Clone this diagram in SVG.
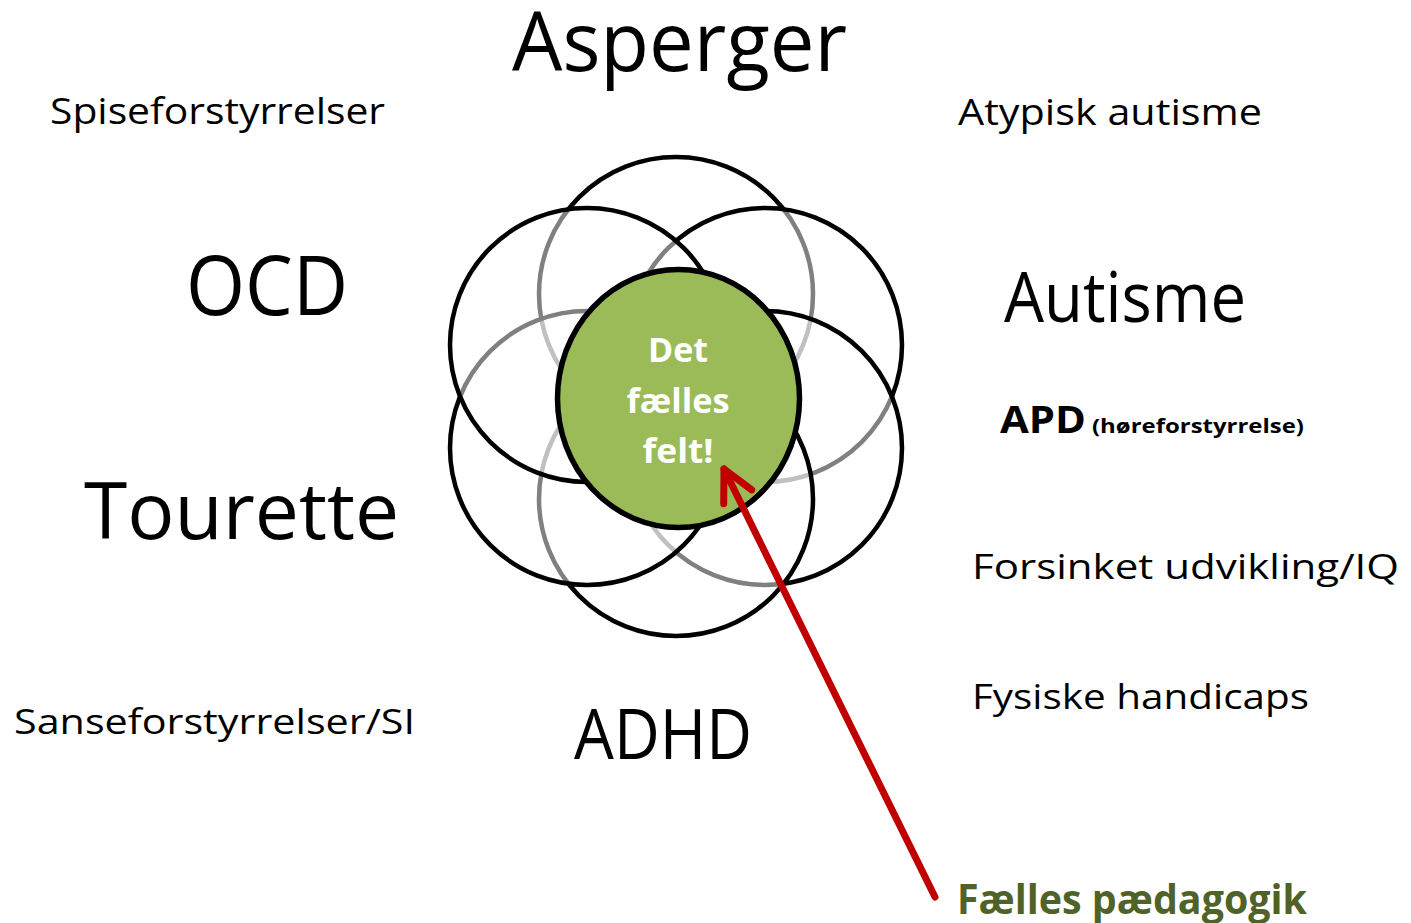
<svg xmlns="http://www.w3.org/2000/svg" width="1411" height="923" viewBox="0 0 1411 923">
<style>
.lbl{font-family:"Open Sans","Noto Sans","Liberation Sans",sans-serif;fill:#000}
.b{font-weight:bold}
.ring{fill:#fff;fill-opacity:0.5;stroke:#000;stroke-width:4.5}
.core{fill:#9BBB59;stroke:#000;stroke-width:5.5}
.ctr{font-family:"Open Sans","Noto Sans","Liberation Sans",sans-serif;font-weight:bold;fill:#fff;font-size:34px}
.arrow{fill:none;stroke:#C00000;stroke-width:7;stroke-linecap:round;stroke-linejoin:round}
</style>
<defs>
<marker id="head" markerUnits="userSpaceOnUse" orient="auto" refX="0" refY="0" markerWidth="80" markerHeight="80" overflow="visible">
<path d="M-31,-15.6 L0,0 L-31,15.6" fill="none" stroke="#C00000" stroke-width="7" stroke-linecap="round" stroke-linejoin="round"/>
</marker>
</defs>
<rect width="1411" height="923" fill="#fff"/>
<g id="rings">
<circle id="ring-top" class="ring" cx="676" cy="294" r="137"/>
<circle id="ring-upper-right" class="ring" cx="765" cy="345" r="137"/>
<circle id="ring-lower-right" class="ring" cx="765" cy="448" r="137"/>
<circle id="ring-bottom" class="ring" cx="676" cy="499" r="137"/>
<circle id="ring-lower-left" class="ring" cx="587" cy="448" r="137"/>
<circle id="ring-upper-left" class="ring" cx="587" cy="345" r="137"/>
</g>
<g id="center">
<ellipse class="core" cx="678.5" cy="398.5" rx="121" ry="129"/>
<text class="ctr" x="678" y="362" text-anchor="middle" textLength="60" lengthAdjust="spacingAndGlyphs">Det</text>
<text class="ctr" x="678" y="413" text-anchor="middle" textLength="103" lengthAdjust="spacingAndGlyphs">fælles</text>
<text class="ctr" x="678" y="463" text-anchor="middle" textLength="71" lengthAdjust="spacingAndGlyphs">felt!</text>
</g>
<g id="n-asperger"><text class="lbl" x="512" y="71" font-size="83" textLength="335" lengthAdjust="spacingAndGlyphs">Asperger</text></g>
<g id="n-spise"><text class="lbl" x="50" y="124" font-size="36" textLength="335" lengthAdjust="spacingAndGlyphs">Spiseforstyrrelser</text></g>
<g id="n-atypisk"><text class="lbl" x="958" y="125" font-size="36" textLength="304" lengthAdjust="spacingAndGlyphs">Atypisk autisme</text></g>
<g id="n-ocd"><text class="lbl" x="186" y="315" font-size="82" textLength="162" lengthAdjust="spacingAndGlyphs">OCD</text></g>
<g id="n-autisme"><text class="lbl" x="1004" y="322" font-size="70" textLength="242" lengthAdjust="spacingAndGlyphs">Autisme</text></g>
<g id="n-apd"><text class="lbl b" x="1000" y="433" font-size="38" textLength="86" lengthAdjust="spacingAndGlyphs">APD</text><text class="lbl b" x="1092" y="433" font-size="19" textLength="212" lengthAdjust="spacingAndGlyphs">(høreforstyrrelse)</text></g>
<g id="n-tourette"><text class="lbl" x="84" y="539" font-size="79" textLength="315" lengthAdjust="spacingAndGlyphs">Tourette</text></g>
<g id="n-forsinket"><text class="lbl" x="972" y="579" font-size="35" textLength="427" lengthAdjust="spacingAndGlyphs">Forsinket udvikling/IQ</text></g>
<g id="n-fysiske"><text class="lbl" x="972" y="709" font-size="35" textLength="337" lengthAdjust="spacingAndGlyphs">Fysiske handicaps</text></g>
<g id="n-sanse"><text class="lbl" x="14" y="734" font-size="35" textLength="401" lengthAdjust="spacingAndGlyphs">Sanseforstyrrelser/SI</text></g>
<g id="n-adhd"><text class="lbl" x="574" y="759" font-size="69" textLength="178" lengthAdjust="spacingAndGlyphs">ADHD</text></g>
<g id="n-paedagogik"><text class="lbl b" x="957" y="914" font-size="42" style="fill:#4F6228" textLength="350" lengthAdjust="spacingAndGlyphs">Fælles pædagogik</text></g>
<g id="connectors">
<path class="arrow" d="M935,897 L724,469" marker-end="url(#head)"/>
</g>
</svg>
